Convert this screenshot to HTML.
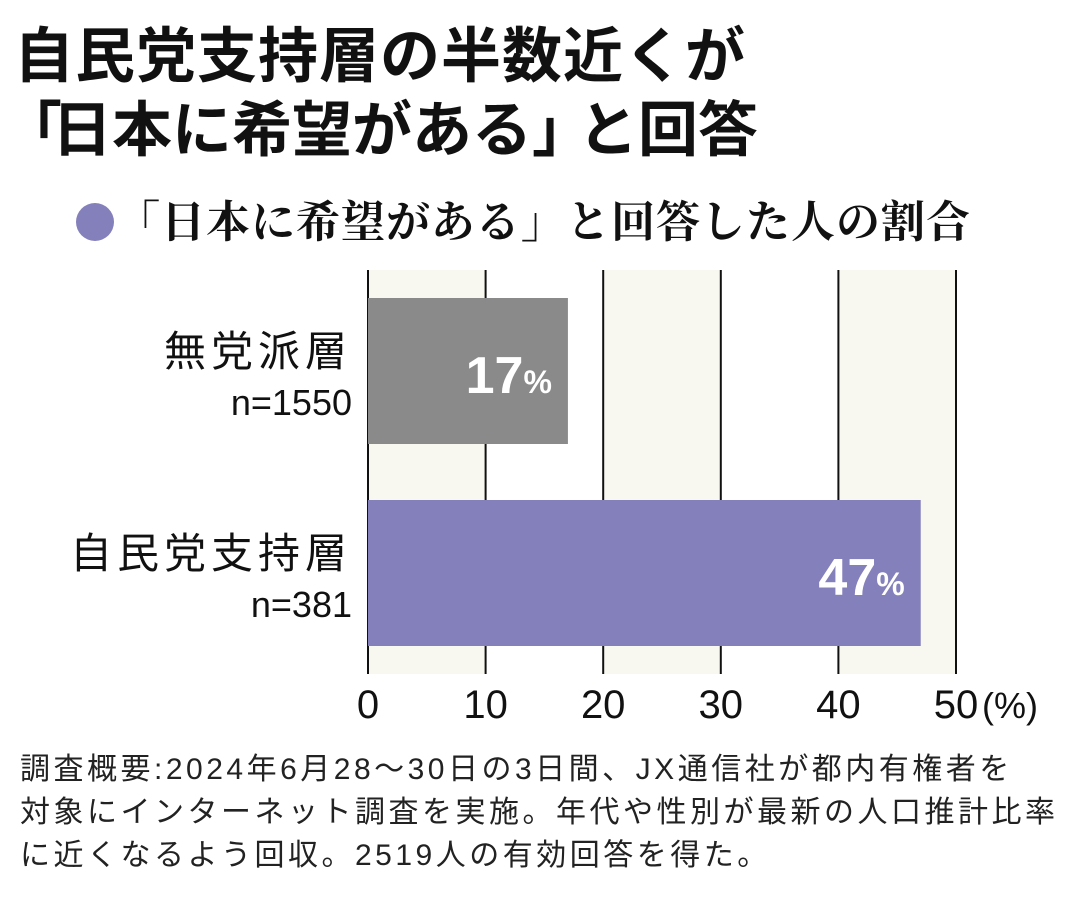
<!DOCTYPE html>
<html><head><meta charset="utf-8"><style>
body{margin:0;width:1080px;height:902px;background:#fff;overflow:hidden;font-family:"Liberation Sans","Noto Sans CJK JP",sans-serif;color:#111}
.t{position:absolute;white-space:nowrap}
</style></head><body>
<div class="t" style="left:14px;top:8px;font-size:60px;font-weight:bold;letter-spacing:1px">自民党支持層の半数近くが</div>
<div class="t" style="left:2px;top:82px;font-size:60px;font-weight:bold;letter-spacing:0px"><span style="margin-right:-10px">「</span>日本に希望がある<span style="margin-right:-14px">」</span>と回答</div>
<div class="t" style="left:76px;top:186px;font-size:44px;font-weight:bold;letter-spacing:1px;font-family:'Liberation Serif','Noto Serif CJK SC',serif"><span style="display:inline-block;width:38px;height:38px;border-radius:50%;background:#8480bb;vertical-align:-4px;margin-right:2px"></span>「日本に希望がある」と回答した人の割合</div>
<svg id="c" width="1080" height="902" style="position:absolute;left:0;top:0"></svg>
<div class="t" style="left:20px;top:748px;font-size:30px;line-height:43px;letter-spacing:3.5px;color:#222">調査概要:2024年6月28〜30日の3日間、JX通信社が都内有権者を<br>対象にインターネット調査を実施。年代や性別が最新の人口推計比率<br>に近くなるよう回収。2519人の有効回答を得た。</div>
<script>
const categories=["無党派層","自民党支持層"];
const samples=["n=1550","n=381"];
const values=[17,47];
const colors=["#8a8a8a","#8480bb"];
const ticks=[0,10,20,30,40,50];
const svg=document.getElementById('c');
const NS='http://www.w3.org/2000/svg';
const x0=368,x1=956,plotTop=270,plotBot=674;
const xs=v=>x0+v*(x1-x0)/50;
function mk(t,a){const e=document.createElementNS(NS,t);for(const k in a)e.setAttribute(k,a[k]);svg.appendChild(e);return e;}
for(let i=0;i<ticks.length-1;i++){
 if(i%2==0){const b=mk('rect',{x:xs(ticks[i]),y:plotTop,width:xs(ticks[i+1])-xs(ticks[i]),height:plotBot-plotTop,fill:'#f8f7f0'});
 
 }
}
ticks.forEach(t=>{
 const l=mk('line',{x1:xs(t),x2:xs(t),y1:plotTop,y2:plotBot,stroke:'#111','stroke-width':2});
 
 
 const tx=mk('text',{x:xs(t),y:718,'text-anchor':'middle','font-size':40,fill:'#111'});
 tx.textContent=t;
 
 
});
const u=mk('text',{x:xs(50)+26,y:718,'font-size':36,fill:'#111'});u.textContent='(%)';


const bandH=202,barH=146;
values.forEach((v,i)=>{
 const y=plotTop+28+i*bandH;
 const r=mk('rect',{x:x0,y:y,width:xs(v)-x0,height:barH,fill:colors[i]});
 
 
 const lb=mk('text',{x:xs(v)-16,y:y+95,'text-anchor':'end',fill:'#fff','font-weight':'bold','font-size':52});
 lb.innerHTML=v+'<tspan font-size="32">%</tspan>';
 
 
 const c=mk('text',{x:352,y:y+68,'text-anchor':'end','font-size':42,fill:'#111','letter-spacing':5});
 c.textContent=categories[i];
 
 
 const n=mk('text',{x:352,y:y+117,'text-anchor':'end','font-size':36,fill:'#111'});
 n.textContent=samples[i];
 
 
});
</script>
</body></html>
